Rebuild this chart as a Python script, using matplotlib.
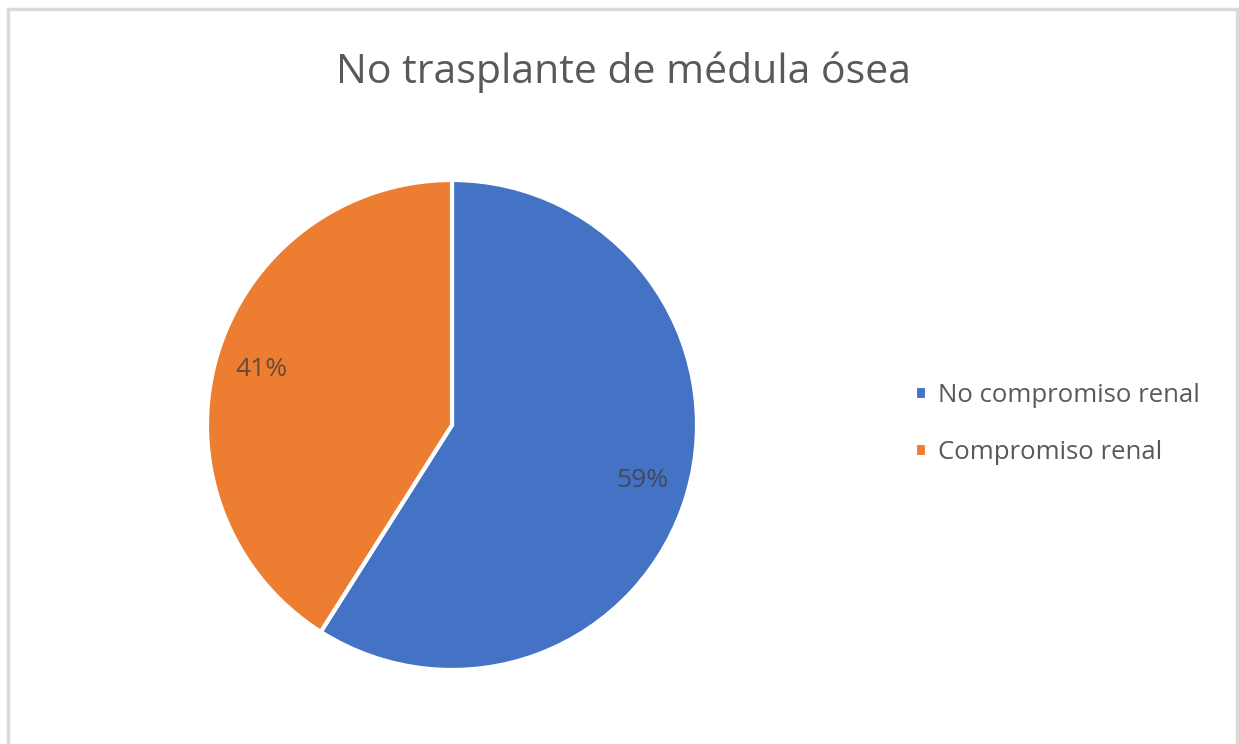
import matplotlib
matplotlib.use('Agg')
import matplotlib.pyplot as plt
import matplotlib.patches as patches

# Slice data
categories = ['No compromiso renal', 'Compromiso renal']
shares = [59, 41]
colors = ['#4472C4', '#ED7D31']

W, H = 1239, 744
fig = plt.figure(figsize=(W / 100, H / 100), dpi=100)
fig.patch.set_facecolor('white')

# chart frame (light grey border)
frame = patches.Rectangle((8 / W, -0.01), (1237 - 8) / W, (H - 9) / H + 0.01,
                          transform=fig.transFigure, fill=False,
                          edgecolor='#d9d9d9', linewidth=2.5)
fig.patches.append(frame)

# pie axes: centre (452, 425) px, radius 245 px
cx, cy, r = 452, 425, 245
ax = fig.add_axes([(cx - r) / W, (H - cy - r) / H, 2 * r / W, 2 * r / H])

wedges, texts, autotexts = ax.pie(
    shares, colors=colors, startangle=90, counterclock=False,
    autopct='%1.0f%%', pctdistance=0.81,
    wedgeprops=dict(edgecolor='white', linewidth=3),
    textprops=dict(fontsize=19, color='#404040', family='Open Sans'),
)
for t in autotexts:
    t.set_alpha(0.8)
ax.set_aspect('equal')
ax.set_xlim(-1.0, 1.0)
ax.set_ylim(-1.0, 1.0)

fig.text(624 / W, 1 - 72 / H, 'No trasplante de médula ósea', ha='center', va='center',
         fontsize=29.5, color='#595959', family='Open Sans')

leg = fig.legend(wedges, categories, loc='center left',
                 bbox_to_anchor=(892 / W, 1 - 424 / H), frameon=False,
                 handlelength=0.45, handleheight=0.45, handletextpad=0.45,
                 labelspacing=1.25, prop=dict(family='Open Sans', size=18.5))
for txt in leg.get_texts():
    txt.set_color('#595959')

fig.savefig('out.png', dpi=100, facecolor='white')
